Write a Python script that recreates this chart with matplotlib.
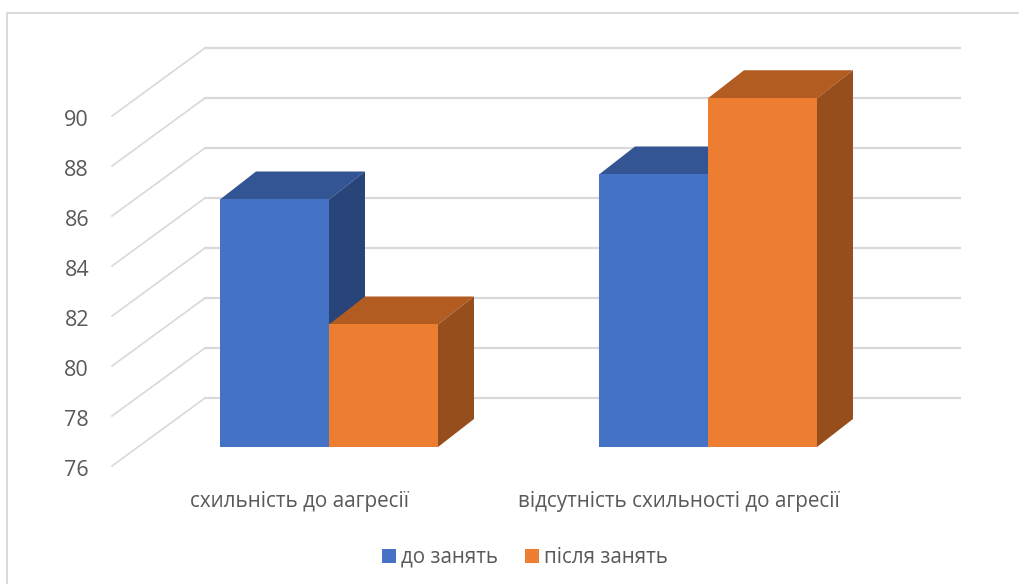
import numpy as np
import matplotlib.pyplot as plt
from matplotlib.patches import Polygon, Rectangle

plt.rcParams['font.family'] = ['Open Sans', 'DejaVu Sans']

# Data
categories = ['схильність до аагресії', 'відсутність схильності до агресії']
series_names = ['до занять', 'після занять']
before = [85.9, 86.9]
after = [80.9, 89.95]
ticks = [76, 78, 80, 82, 84, 86, 88, 90]

# Colours: front, top, side
blue = ('#4472C4', '#335593', '#284478')
orange = ('#ED7D31', '#B25C22', '#964F1C')
grid_col = '#D9D9D9'
text_col = '#595959'

# Pixel layout of the picture, used to set up the axes scales
PX_W, PX_H = 1020, 584
X0_PX, UNIT_PX = 329, 379   # category 0 position and px per category
Y0_PX, VAL_PX = 447, 25     # value 76 on the bars' front plane, px per value unit


def dx(px):
    return px / UNIT_PX


def dy(px):
    return px / VAL_PX


fig = plt.figure(figsize=(10.2, 5.84), dpi=100)
ax = fig.add_axes([0, 0, 1, 1])
ax.set_xlim(-X0_PX / UNIT_PX, (PX_W - X0_PX) / UNIT_PX)
ax.set_ylim(ticks[0] - dy(PX_H - Y0_PX), ticks[0] + dy(Y0_PX))
ax.axis('off')

# Frame of the chart area (left and top only are in the crop)
ax.plot([dx(7 - X0_PX), dx(7 - X0_PX), dx(PX_W - X0_PX)],
        [ticks[0] - dy(PX_H - Y0_PX), ticks[0] + dy(Y0_PX - 13), ticks[0] + dy(Y0_PX - 13)],
        color=grid_col, lw=1.4, zorder=1)

# Floor-to-wall gridlines with the 3D offset
wall_front = dx(112 - X0_PX)
wall_back = dx(205 - X0_PX)
wall_right = dx(960 - X0_PX)
front_off = dy(-19)
back_off = dy(49)
for t in ticks:
    ax.plot([wall_front, wall_back], [t + front_off, t + back_off],
            color=grid_col, lw=1.2, zorder=1)
    ax.plot([wall_back, wall_right], [t + back_off, t + back_off],
            color=grid_col, lw=1.6, zorder=1)
    ax.text(dx(89 - X0_PX), t + front_off - dy(5), str(t), ha='right', va='center',
            fontsize=15.5, color=text_col)

# Bars
bar_w = dx(109)
depth_x = dx(36)
depth_y = dy(28)


def draw_bar(x_left, value, cols):
    base = ticks[0]
    x_right = x_left + bar_w
    ax.add_patch(Polygon([(x_left, value), (x_left + depth_x, value + depth_y),
                          (x_right + depth_x, value + depth_y), (x_right, value)],
                         closed=True, fc=cols[1], ec='none', zorder=3))
    ax.add_patch(Polygon([(x_right, base), (x_right + depth_x, base + depth_y),
                          (x_right + depth_x, value + depth_y), (x_right, value)],
                         closed=True, fc=cols[2], ec='none', zorder=3))
    ax.add_patch(Rectangle((x_left, base), bar_w, value - base, fc=cols[0], ec='none', zorder=4))


for i in range(len(categories)):
    draw_bar(i - bar_w, before[i], blue)
    draw_bar(i, after[i], orange)
    ax.text(i - dx(29), ticks[0] - dy(55), categories[i], ha='center', va='center',
            fontsize=14.9, color=text_col)

# Legend
legend_y = ticks[0] - dy(109)
box = dy(14)
for x_px, name, cols in zip([382, 525], series_names, [blue, orange]):
    ax.add_patch(Rectangle((dx(x_px - X0_PX), legend_y - box / 2), dx(14), box, fc=cols[0], ec='none'))
    ax.text(dx(x_px + 19 - X0_PX), legend_y - dy(1.5), name, ha='left', va='center',
            fontsize=14.8, color=text_col)

fig.savefig('out.png', dpi=100)
